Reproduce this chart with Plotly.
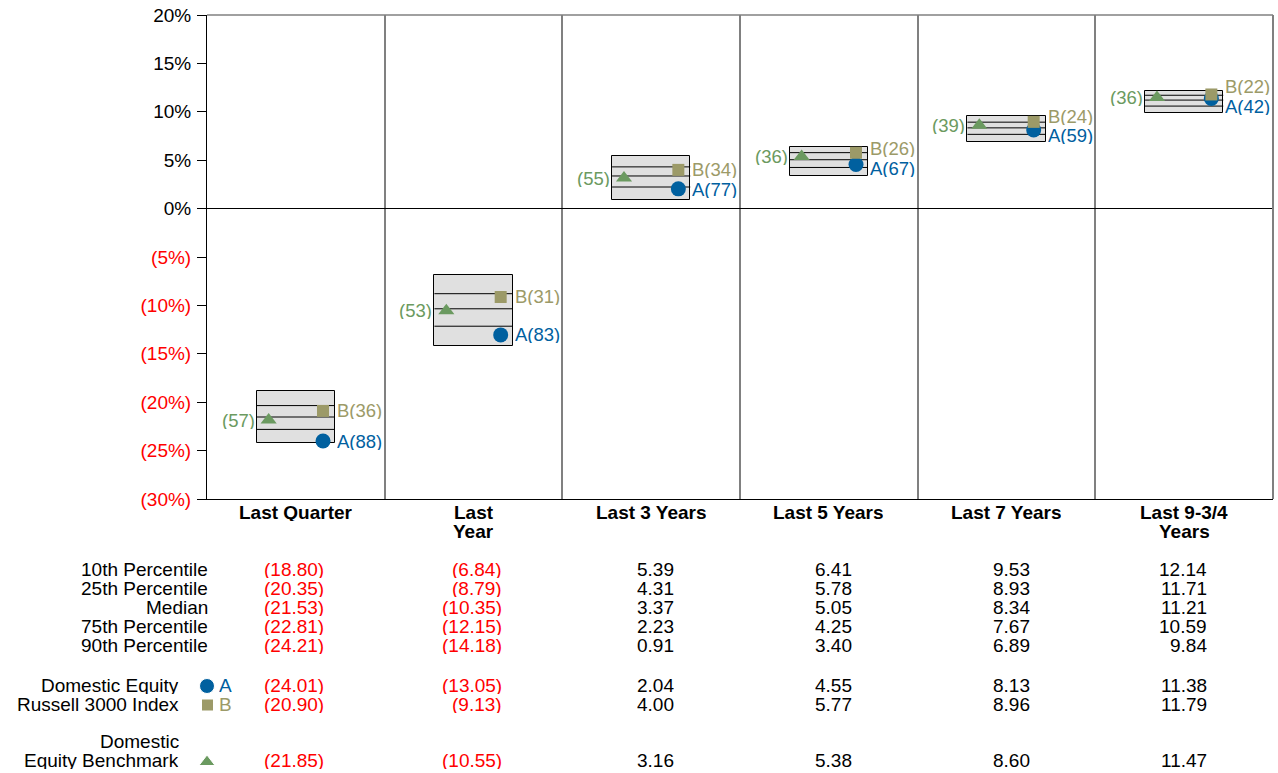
import plotly.graph_objects as go

# Universe percentiles and portfolio returns (%)
categories = ["Last Quarter", "Last\nYear", "Last 3 Years", "Last 5 Years", "Last 7 Years", "Last 9-3/4\nYears"]
pct10 = [-18.80, -6.84, 5.39, 6.41, 9.53, 12.14]
pct25 = [-20.35, -8.79, 4.31, 5.78, 8.93, 11.71]
median = [-21.53, -10.35, 3.37, 5.05, 8.34, 11.21]
pct75 = [-22.81, -12.15, 2.23, 4.25, 7.67, 10.59]
pct90 = [-24.21, -14.18, 0.91, 3.40, 6.89, 9.84]

dom_eq = [-24.01, -13.05, 2.04, 4.55, 8.13, 11.38]
r3000 = [-20.90, -9.13, 4.00, 5.77, 8.96, 11.79]
bench = [-21.85, -10.55, 3.16, 5.38, 8.60, 11.47]

dom_eq_rank = [88, 83, 77, 67, 59, 42]
r3000_rank = [36, 31, 34, 26, 24, 22]
bench_rank = [57, 53, 55, 36, 39, 36]

y_ticks = [20, 15, 10, 5, 0, -5, -10, -15, -20, -25, -30]

# Styling
W, H = 1278, 773
PL, PR, PT, PB = 207, 1273, 15, 499          # plot area in pixels
FONT = "Liberation Sans, Arial, sans-serif"
BLUE = "#00609f"
KHAKI = "#9c9a68"
GREEN = "#6b9a60"
RED = "#ff0000"
BOX_FILL = "#e0e0e0"
SEP = "#808080"
FS = 19
LBL_FS = 18.5
BOX_W = 0.44
OFF = 0.153
ROW_H = 18

n = len(categories)
xs = list(range(n))
px_per_unit = (PB - PT) / (max(y_ticks) - min(y_ticks))


def fmt(v):
    return f"({abs(v):.2f})" if v < 0 else f"{v:.2f}"


def tick_text(v):
    if v < 0:
        return f"<span style='color:{RED}'>({abs(v)}%)</span>"
    return f"{v}%"


fig = go.Figure()

# Percentile range boxes (10th to 90th)
fig.add_trace(go.Bar(
    x=xs, base=pct90, y=[a - b for a, b in zip(pct10, pct90)], width=BOX_W,
    marker=dict(color=BOX_FILL, line=dict(color="black", width=1)),
    hoverinfo="skip", showlegend=False,
))

# Quartile and median lines inside the boxes
lx, ly = [], []
for i in xs:
    for v in (pct25[i], median[i], pct75[i]):
        lx += [i - BOX_W / 2, i + BOX_W / 2, None]
        ly += [v, v, None]
fig.add_trace(go.Scatter(x=lx, y=ly, mode="lines", line=dict(color="black", width=1),
                         hoverinfo="skip", showlegend=False))

# Benchmark, portfolio and index markers
fig.add_trace(go.Scatter(x=[i - OFF for i in xs], y=bench, mode="markers",
                         marker=dict(symbol="triangle-up", size=14, color=GREEN, opacity=1),
                         showlegend=False))
fig.add_trace(go.Scatter(x=[i + OFF for i in xs], y=dom_eq, mode="markers",
                         marker=dict(symbol="circle", size=15, color=BLUE, opacity=1),
                         showlegend=False))
fig.add_trace(go.Scatter(x=[i + OFF for i in xs], y=r3000, mode="markers",
                         marker=dict(symbol="square", size=12, color=KHAKI, opacity=1),
                         showlegend=False))

ann = []
MIN_SEP = 19.5
LBL_H = 17
for i in xs:
    gap = (r3000[i] - dom_eq[i]) * px_per_unit
    push = max(0.0, (MIN_SEP - abs(gap)) / 2)
    sgn = 1 if gap >= 0 else -1
    ann.append(dict(x=i + OFF, y=r3000[i], xref="x", yref="y", text=f"B({r3000_rank[i]})",
                    xanchor="left", yanchor="middle", xshift=12, yshift=sgn * push,
                    height=LBL_H, showarrow=False, font=dict(color=KHAKI, size=LBL_FS)))
    ann.append(dict(x=i + OFF, y=dom_eq[i], xref="x", yref="y", text=f"A({dom_eq_rank[i]})",
                    xanchor="left", yanchor="middle", xshift=12, yshift=-sgn * push,
                    height=LBL_H, showarrow=False, font=dict(color=BLUE, size=LBL_FS)))
    ann.append(dict(x=i - OFF, y=bench[i], xref="x", yref="y", text=f"({bench_rank[i]})",
                    xanchor="right", yanchor="middle", xshift=-12, height=LBL_H,
                    showarrow=False, font=dict(color=GREEN, size=LBL_FS)))

# Category labels under the axis
for i, cat in enumerate(categories):
    for k, line in enumerate(cat.split("\n")):
        ann.append(dict(x=i, y=512 + k * 18.5, xref="x", yref="y2", text=f"<b>{line}</b>",
                        xanchor="center", yanchor="middle", showarrow=False, height=ROW_H,
                        font=dict(size=FS, color="black")))

# Summary table
rows = [
    ("10th Percentile", pct10, 569, PL),
    ("25th Percentile", pct25, 588, PL),
    ("Median", median, 607, PL),
    ("75th Percentile", pct75, 626, PL),
    ("90th Percentile", pct90, 645, PL),
    ("Domestic Equity", dom_eq, 685, 178),
    ("Russell 3000 Index", r3000, 704, 178),
    ("Equity Benchmark", bench, 760, 178),
]
for label, vals, ypix, xr in rows:
    ann.append(dict(x=xr, y=ypix, xref="x2", yref="y2", text=label, xanchor="right",
                    yanchor="middle", xshift=3, showarrow=False, height=ROW_H,
                    font=dict(size=FS, color="black")))
    for i, v in enumerate(vals):
        ann.append(dict(x=i, y=ypix, xref="x", yref="y2", text=fmt(v), xanchor="right",
                        yanchor="middle", xshift=30 if v < 0 else 25, showarrow=False,
                        height=ROW_H, font=dict(size=FS, color=RED if v < 0 else "black")))
ann.append(dict(x=178, y=741, xref="x2", yref="y2", text="Domestic", xanchor="right",
                yanchor="middle", xshift=3, showarrow=False, height=ROW_H,
                font=dict(size=FS, color="black")))
ann.append(dict(x=217, y=685, xref="x2", yref="y2", text="A", xanchor="left",
                yanchor="middle", showarrow=False, height=ROW_H, font=dict(size=FS, color=BLUE)))
ann.append(dict(x=217, y=704, xref="x2", yref="y2", text="B", xanchor="left",
                yanchor="middle", showarrow=False, height=ROW_H, font=dict(size=FS, color=KHAKI)))

# Legend keys beside the table rows
fig.add_trace(go.Scatter(x=[207, 207.5, 207], y=[686, 705, 762], xaxis="x2", yaxis="y2",
                         mode="markers", cliponaxis=False, hoverinfo="skip", showlegend=False,
                         marker=dict(symbol=["circle", "square", "triangle-up"], opacity=1,
                                     size=[15, 12, 14], color=[BLUE, KHAKI, GREEN])))

shapes = [
    # top and right frame
    dict(type="line", xref="x domain", yref="y domain", x0=0, x1=1, y0=1, y1=1,
         line=dict(color=SEP, width=1.5)),
    dict(type="line", xref="x domain", yref="y domain", x0=1, x1=1, y0=0, y1=1,
         line=dict(color=SEP, width=2)),
]

fig.update_layout(
    width=W, height=H,
    margin=dict(l=0, r=0, t=0, b=0, autoexpand=False),
    paper_bgcolor="white", plot_bgcolor="rgba(0,0,0,0)",
    font=dict(family=FONT, size=FS, color="black"),
    bargap=0,
    showlegend=False,
    annotations=ann,
    shapes=shapes,
    xaxis=dict(domain=[PL / W, PR / W], range=[-0.5, n - 0.5], showticklabels=False,
               tickvals=[i + 0.5 for i in range(n - 1)], ticks="", showgrid=True,
               gridcolor=SEP, gridwidth=1.5, zeroline=False, showline=True,
               linecolor="black", linewidth=1, fixedrange=True),
    yaxis=dict(domain=[(H - PB) / H, (H - PT) / H], range=[min(y_ticks), max(y_ticks)],
               tickvals=y_ticks, ticktext=[tick_text(v) for v in y_ticks],
               ticks="outside", ticklen=9, tickcolor="black", tickwidth=1,
               showgrid=False, zeroline=True, zerolinecolor="black", zerolinewidth=1,
               showline=True, linecolor="black", linewidth=1, ticklabelstandoff=2,
               tickfont=dict(size=FS), fixedrange=True),
    xaxis2=dict(domain=[0, 1], range=[0, W], visible=False, anchor="y2", fixedrange=True),
    yaxis2=dict(domain=[0, 1], range=[H, 0], visible=False, anchor="x2", fixedrange=True),
)

fig.write_html("out.html")
